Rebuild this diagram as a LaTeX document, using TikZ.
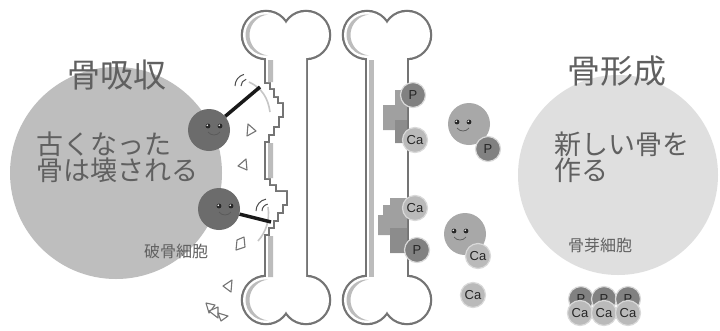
\documentclass[tikz,border=0pt]{standalone}
\usepackage{fontspec}
\setsansfont{Liberation Sans}
\newfontfamily\jp{Noto Sans CJK JP}

\definecolor{resorbgray}{HTML}{BEBEBE}
\definecolor{formgray}{HTML}{DFDFDF}
\definecolor{clastgray}{HTML}{6C6C6C}
\definecolor{blastgray}{HTML}{A8A8A8}
\definecolor{boneline}{HTML}{747474}
\definecolor{bonestripe}{HTML}{BCBCBC}
\definecolor{newbone}{HTML}{A0A0A0}
\definecolor{newbonedark}{HTML}{8C8C8C}
\definecolor{phosgray}{HTML}{818181}
\definecolor{calcgray}{HTML}{BABABA}
\definecolor{labelgray}{HTML}{606060}

\tikzset{
  zone/.style={circle, inner sep=0pt, draw=none},
  label text/.style={inner sep=0pt, text=labelgray},
  cellbody/.style={circle, inner sep=0pt, minimum size=42pt},
  clast/.style={cellbody, fill=clastgray},
  blast/.style={cellbody, fill=blastgray},
  ion/.style={circle, inner sep=0pt, minimum size=25pt, draw=white!70!gray,
    line width=1.2pt, font=\sffamily\fontsize{13}{13}\selectfont, text=black!85},
  phos/.style={ion, fill=phosgray},
  calcion/.style={ion, fill=calcgray},
  tool/.style={line width=3.5pt, black!90},
  wave/.style={line width=1pt, black!70},
  swing/.style={line width=1.6pt, gray!45},
  chip/.style={fill=white, draw=boneline, line width=1.1pt, line join=round},
  face/.pic={
    \fill[black!85] (-6,-3) circle[radius=2.4] (6,-3) circle[radius=2.4];
    \fill[white] (-6.8,-3.8) circle[radius=0.9] (5.2,-3.8) circle[radius=0.9];
    \draw[black!65, line width=0.7pt] (-6,3) .. controls (-3,7) and (3,7) .. (6,3);
  }
}

% the four end lobes of a bone centred at x = #1
\newcommand\bonelobes[2]{\path[#2] (#1-20,35) circle[radius=23] (#1+20,35) circle[radius=23]
  (#1-20,300) circle[radius=23] (#1+20,300) circle[radius=23];}
% the shading crescents inside the left lobes (between two offset circles)
\newcommand\bonecrescents[1]{%
  \fill[bonestripe] (#1-18,14.6) arc[start angle=275.6, end angle=84.4, radius=20.5]
    arc[start angle=95.6, end angle=264.4, radius=20.5] -- cycle;
  \fill[bonestripe] (#1-18,279.6) arc[start angle=275.6, end angle=84.4, radius=20.5]
    arc[start angle=95.6, end angle=264.4, radius=20.5] -- cycle;}
% eroded shaft of the resorbed bone
\newcommand\erodedshaft{(266,40) -- (266,82) -- (271,82) -- (271,88) -- (275,88) -- (275,96)
  -- (279,96) -- (279,102) -- (284,102) -- (284,118) -- (280,118) -- (280,128) -- (275,128)
  -- (275,136) -- (270,136) -- (270,143) -- (266,143) -- (266,178) -- (271,178) -- (271,184)
  -- (277,184) -- (277,190) -- (288,190) -- (288,206) -- (284,206) -- (284,214) -- (279,214)
  -- (279,222) -- (275,222) -- (275,229) -- (270,229) -- (270,236) -- (266,236) -- (266,295)
  -- (306,295) -- (306,40) -- cycle}

\begin{document}
\begin{tikzpicture}[x=1pt,y=-1pt]
\useasboundingbox (0,0) rectangle (720,330);
\fill[white] (0,0) rectangle (720,330);

% resorption and formation zones
\node[zone, fill=resorbgray, minimum size=212pt] (resorb) at (116,173) {};
\node[zone, fill=formgray, minimum size=200pt] (form) at (618,175) {};

% labels
\node[label text, font=\jp\fontsize{33}{33}\selectfont] (resorbtitle) at (117,75) {骨吸収};
\node[label text, anchor=west, align=left, font=\jp\fontsize{27}{24}\selectfont]
  (resorbtext) at (36,157) {古くなった\\骨は壊される};
\node[label text, font=\jp\fontsize{16}{16}\selectfont] (clastname) at (176,251) {破骨細胞};
\node[label text, font=\jp\fontsize{33}{33}\selectfont] (formtitle) at (617,71) {骨形成};
\node[label text, anchor=west, align=left, font=\jp\fontsize{27}{24}\selectfont]
  (formtext) at (554,157) {新しい骨を\\作る};
\node[label text, font=\jp\fontsize{16}{16}\selectfont] (blastname) at (600,245) {骨芽細胞};

% bones: outline first, then white body over the inner half of it
\bonelobes{286}{draw=boneline, line width=4.5pt}
\bonelobes{387}{draw=boneline, line width=4.5pt}
\draw[boneline, line width=4.5pt, line join=miter] \erodedshaft;
\draw[boneline, line width=4.5pt] (367,40) rectangle (407,295);
\bonelobes{286}{fill=white}
\bonelobes{387}{fill=white}
\fill[white] \erodedshaft;
\fill[white] (367,40) rectangle (407,295);
\bonecrescents{286}
\bonecrescents{387}
\fill[bonestripe] (268,60) rectangle (273,82) (268,143) rectangle (273,178) (268,236) rectangle (273,277);
\fill[bonestripe] (368.5,60) rectangle (374,277);

% newly laid bone
\fill[newbone] (395,90) -- (407,90) -- (407,143) -- (395,143) -- (395,130) -- (383,130)
  -- (383,105) -- (395,105) -- cycle;
\fill[newbonedark] (395,120) rectangle (407,143);
\fill[newbone] (390,198) -- (407,198) -- (407,253) -- (390,253) -- (390,235) -- (378,235)
  -- (378,215) -- (383,215) -- (383,205) -- (390,205) -- cycle;
\fill[newbonedark] (390,228) rectangle (407,253);

% minerals on the bone surface
\node[phos] (pa) at (413,95) {P};
\node[calcion] (caa) at (415,140) {Ca};
\node[calcion] (cab) at (415,208) {Ca};
\node[phos] (pb) at (417,250) {P};

% osteoclasts at work
\coordinate (hitA) at (260,87);
\coordinate (hitB) at (271,222);
\draw[swing] (249,82) .. controls (262,88) and (268,98) .. (270,112);
\draw[swing] (268,207) .. controls (270,220) and (266,232) .. (258,241);
\node[clast] (clastA) at (209,130) {};
\node[clast] (clastB) at (219,209) {};
\draw[tool] (clastA) -- (hitA);
\draw[tool] (clastB) -- (hitB);
\pic at (214,129) {face};
\pic at (225,209) {face};
\draw[wave] (241,86) arc[start angle=180, end angle=255, radius=7];
\draw[wave] (235,86) arc[start angle=180, end angle=255, radius=12];
\draw[wave] (262,211) arc[start angle=180, end angle=260, radius=7];
\draw[wave] (256,211) arc[start angle=180, end angle=260, radius=12];

% broken bone chips
\draw[chip] (248,124) -- (256,131) -- (247,136) -- cycle;
\draw[chip] (238,166) -- (246,159) -- (247,170) -- cycle;
\draw[chip] (237,240) -- (244,237) -- (245,247) -- (236,250) -- cycle;
\draw[chip] (223,286) -- (232,280) -- (231,292) -- cycle;
\draw[chip] (206,303) -- (215,305) -- (209,313) -- cycle;
\draw[chip] (209,311) -- (218,307) -- (218,318) -- cycle;
\draw[chip] (218,313) -- (228,316) -- (221,321) -- cycle;

% osteoblasts carrying minerals
\node[blast] (blastA) at (469,124) {};
\pic at (463,125) {face};
\node[phos] (pc) at (488,149) {P};
\node[blast] (blastB) at (465,234) {};
\pic at (460,234) {face};
\node[calcion] (cac) at (478,256) {Ca};
\node[calcion] (cad) at (473,295) {Ca};

% mineral pairs waiting to be laid down
\node[phos] (pd) at (581,299) {P};
\node[phos] (pe) at (604,299) {P};
\node[phos] (pf) at (628,299) {P};
\node[calcion] (cae) at (580,313) {Ca};
\node[calcion] (caf) at (604,313) {Ca};
\node[calcion] (cag) at (628,313) {Ca};
\end{tikzpicture}
\end{document}
